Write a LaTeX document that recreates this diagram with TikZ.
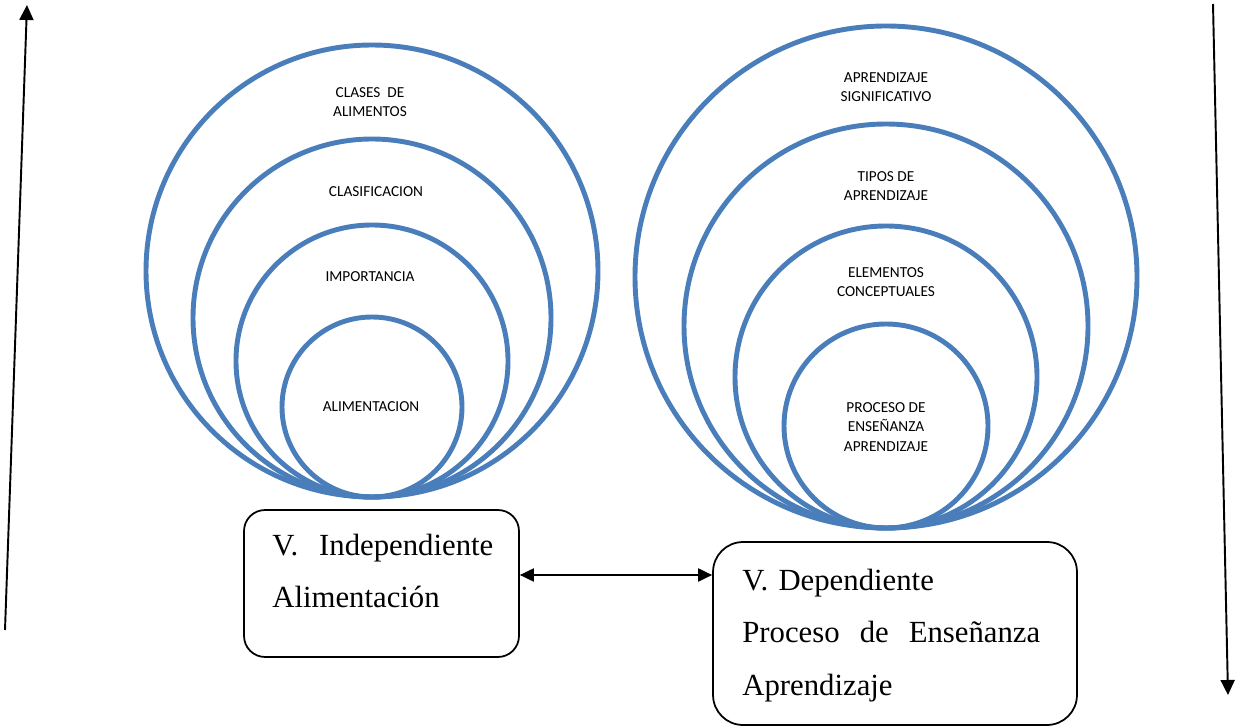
\documentclass[tikz,border=0pt]{standalone}
\usepackage{fontspec}
\setmainfont{Liberation Serif}
\newfontfamily\lblfont{Carlito}
\usetikzlibrary{arrows.meta}
\definecolor{ringblue}{RGB}{74,126,187}
\tikzset{
  ring/.style={draw=ringblue, line width=2.8pt},
  lbl/.style={font=\lblfont\fontsize{8.7}{11}\selectfont, align=center, inner sep=0pt},
  varbox/.style={draw, line width=1pt},
  boxtxt/.style={font=\fontsize{17.5}{30}\selectfont, inner sep=0pt, align=left},
  link/.style={line width=1.1pt, -{Triangle[length=0.3cm, width=0.28cm]}},
  dlink/.style={line width=1.1pt, {Triangle[length=0.28cm, width=0.26cm]}-{Triangle[length=0.28cm, width=0.26cm]}}
}
\begin{document}
\begin{tikzpicture}[x=0.02cm, y=-0.02cm]
  \useasboundingbox (0,0) rectangle (1237,726);
  % rings, tangent at the bottom
  \foreach \r in {226,179,136,90}
    \draw[ring] (372,497-\r) circle (\r);
  \foreach \r in {251,202,151,102}
    \draw[ring] (886,528-\r) circle (\r);
  \draw
    (370,102) node[lbl] (clases){CLASES\ \ DE\\ALIMENTOS}
    (376,192) node[lbl] (clasif){CLASIFICACION}
    (370,277) node[lbl] (import){IMPORTANCIA}
    (371,407) node[lbl] (alim){ALIMENTACION}
    (886,87) node[lbl] (signif){APRENDIZAJE\\SIGNIFICATIVO}
    (886,186) node[lbl] (tipos){TIPOS DE\\APRENDIZAJE}
    (886,282) node[lbl] (elem){ELEMENTOS\\CONCEPTUALES}
    (886,427) node[lbl] (proc){PROCESO DE\\ENSEÑANZA\\APRENDIZAJE};
  % variables
  \node[varbox, rounded corners=0.42cm, minimum width=5.5cm, minimum height=2.94cm] (indep) at (381.5,583.5) {};
  \node[varbox, rounded corners=0.6cm, minimum width=7.28cm, minimum height=3.66cm] (dep) at (895,633.5) {};
  \node[boxtxt, text width=4.6cm, anchor=base west] (indeptxt) at (272,555)
    {\leavevmode\hbox to 4.42cm{V.\hfill Independiente}\\Alimentación};
  \node[boxtxt, text width=6.2cm, anchor=base west] (deptxt) at (742,590)
    {V. Dependiente\\\leavevmode\hbox to 5.96cm{Proceso\hfill de\hfill Enseñanza}\\Aprendizaje};
  \coordinate (mid) at (616,575);
  \draw[dlink] (mid -| indep.east) -- (mid -| dep.west);
  % side arrows
  \coordinate (lbot) at (5,630);
  \coordinate (ltop) at (27,5);
  \coordinate (rtop) at (1213,4);
  \coordinate (rbot) at (1228,695);
  \draw[link] (lbot) -- (ltop);
  \draw[link] (rtop) -- (rbot);
\end{tikzpicture}
\end{document}
